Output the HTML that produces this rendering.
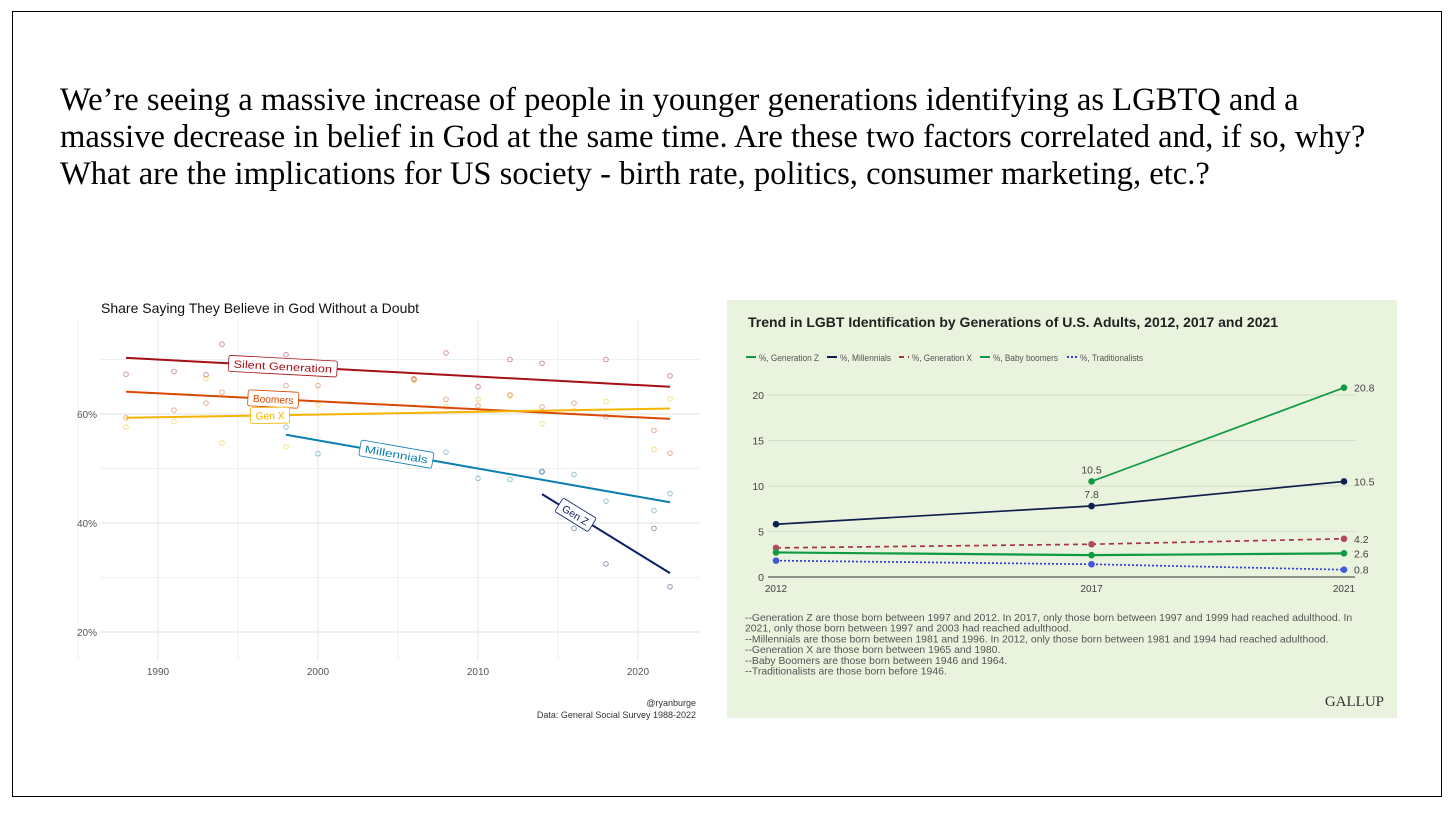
<!DOCTYPE html>
<html><head><meta charset="utf-8"><style>
body{margin:0;background:#fff;width:1456px;height:813px;overflow:hidden;position:relative}
#frame{position:absolute;left:12px;top:11px;width:1430px;height:786px;border:1.5px solid #000;box-sizing:border-box}
#q{position:absolute;left:60px;top:82px;font:32.6px/37px "Liberation Serif",serif;color:#000;margin:0;white-space:nowrap}
svg{position:absolute;left:0;top:0}
</style></head><body>
<div id="frame"></div>
<p id="q">We’re seeing a massive increase of people in younger generations identifying as LGBTQ and a<br>massive decrease in belief in God at the same time. Are these two factors correlated and, if so, why?<br>What are the implications for US society - birth rate, politics, consumer marketing, etc.?</p>
<svg id="left" width="1456" height="813"></svg>
<svg id="right" width="1456" height="813"></svg>
<script>
// ---------- Left chart data ----------
const gens = ["Silent Generation","Boomers","Gen X","Millennials","Gen Z"];
const genColors = ["#a50f15","#d94801","#f5b400","#0a7fb0","#0c1f66"];
const trendStart = [[1988,70.3],[1988,64.1],[1988,59.3],[1998,56.2],[2014,45.3]];
const trendEnd = [[2022,65.0],[2022,59.1],[2022,61.0],[2022,43.8],[2022,30.8]];
const silentPts = [[1988,67.3],[1991,67.8],[1993,67.2],[1994,72.8],[1998,70.9],[2006,66.3],[2008,71.2],[2010,65.0],[2012,70.0],[2014,69.3],[2018,70.0],[2022,67.0]];
const boomerPts = [[1988,59.3],[1991,60.7],[1993,62.0],[1994,64.0],[1998,65.2],[2000,65.2],[2006,66.5],[2008,62.7],[2010,61.5],[2012,63.5],[2014,61.3],[2016,62.0],[2018,59.5],[2021,57.0],[2022,52.8]];
const genxPts = [[1988,57.6],[1991,58.6],[1993,66.5],[1994,54.7],[1998,54.0],[2000,61.7],[2006,66.2],[2008,61.3],[2010,62.7],[2012,63.3],[2014,58.2],[2016,60.6],[2018,62.3],[2021,53.5],[2022,62.8]];
const millPts = [[1998,57.6],[2000,52.7],[2008,53.0],[2010,48.2],[2012,48.0],[2014,49.3],[2016,48.9],[2018,44.0],[2021,42.3],[2022,45.4]];
const genzPts = [[2014,49.5],[2016,39.0],[2018,32.5],[2021,39.0],[2022,28.3]];
const leftYTicks = [20,40,60];
const leftXTicks = [1990,2000,2010,2020];
const labelYears = [1997.8,1997.2,1997,2004.9,2016.1];

// ---------- Right chart data ----------
const years = [2012,2017,2021];
const genZ = [null,10.5,20.8];
const millennials = [5.8,7.8,10.5];
const genX = [3.2,3.6,4.2];
const boomers = [2.7,2.4,2.6];
const traditionalists = [1.8,1.4,0.8];
const rightYTicks = [0,5,10,15,20];

const NS="http://www.w3.org/2000/svg";
function mk(parent,tag,attrs,text){const e=document.createElementNS(NS,tag);for(const k in attrs)e.setAttribute(k,attrs[k]);if(text!==undefined)e.textContent=text;parent.appendChild(e);return e;}

// ---- Left chart ----
const L=document.getElementById('left');
const lx=y=>158+(y-1990)*16;
const ly=v=>414-(v-60)*5.45;
const F='"Liberation Sans",sans-serif';
let t=mk(L,'text',{x:101,y:313,'font-family':F,'font-size':14,fill:'#111'},'Share Saying They Believe in God Without a Doubt');


[1985,1995,2005,2015].forEach(y=>{const g=mk(L,'line',{x1:lx(y),x2:lx(y),y1:320,y2:660,stroke:'#f0f0f0','stroke-width':1});});
[30,50,70].forEach(v=>{const g=mk(L,'line',{x1:100,x2:700,y1:ly(v),y2:ly(v),stroke:'#f0f0f0','stroke-width':1});});
leftXTicks.forEach(y=>{const g=mk(L,'line',{x1:lx(y),x2:lx(y),y1:320,y2:660,stroke:'#e6e6e6','stroke-width':1});
 const tt=mk(L,'text',{x:lx(y),y:675,'text-anchor':'middle','font-family':F,'font-size':10,fill:'#555'},y);});
leftYTicks.forEach(v=>{const g=mk(L,'line',{x1:100,x2:700,y1:ly(v),y2:ly(v),stroke:'#e6e6e6','stroke-width':1.2});
 const tt=mk(L,'text',{x:97,y:ly(v)+4,'text-anchor':'end','font-family':F,'font-size':10,fill:'#555'},v+'%');});
const allPts=[silentPts,boomerPts,genxPts,millPts,genzPts];
allPts.forEach((pts,i)=>pts.forEach(p=>{const c=mk(L,'circle',{cx:lx(p[0]),cy:ly(p[1]),r:2.3,fill:'none',stroke:genColors[i],'stroke-opacity':0.5,'stroke-width':0.9});}));
gens.forEach((g,i)=>{const a=trendStart[i],b=trendEnd[i];
 const l=mk(L,'line',{x1:lx(a[0]),y1:ly(a[1]),x2:lx(b[0]),y2:ly(b[1]),stroke:genColors[i],'stroke-width':2});
 
 const yr=labelYears[i];const fr=(yr-a[0])/(b[0]-a[0]);const v=a[1]+fr*(b[1]-a[1]);
 const cx=lx(yr),cy=ly(v);let ang=Math.atan2(ly(b[1])-ly(a[1]),lx(b[0])-lx(a[0]))*180/Math.PI;
 const gg=mk(L,'g',{transform:`translate(${cx},${cy}) rotate(${ang})`});
 
 const w=g.length*5.8+10;
 mk(gg,'rect',{x:-w/2,y:-8,width:w,height:16,rx:2,fill:'#fff',stroke:genColors[i],'stroke-width':0.8});
 mk(gg,'text',{x:0,y:4,'text-anchor':'middle','font-family':F,'font-size':10.5,fill:genColors[i],textLength:w-10,lengthAdjust:'spacingAndGlyphs'},g);
});
t=mk(L,'text',{x:696,y:706,'text-anchor':'end','font-family':F,'font-size':9,fill:'#333'},'@ryanburge');
t=mk(L,'text',{x:696,y:718,'text-anchor':'end','font-family':F,'font-size':9,fill:'#333'},'Data: General Social Survey 1988-2022');

// ---- Right chart ----
const R=document.getElementById('right');
const rx=y=>776+(y-2012)*(1344-776)/9;
const ry=v=>577-v*9.1;
let bg=mk(R,'rect',{x:727,y:300,width:670,height:418,fill:'#eaf3de'});
t=mk(R,'text',{x:748,y:327,'font-family':F,'font-size':14,'font-weight':'bold',fill:'#222'},'Trend in LGBT Identification by Generations of U.S. Adults, 2012, 2017 and 2021');
const series=[genZ,millennials,genX,boomers,traditionalists];
const sNames=['%, Generation Z','%, Millennials','%, Generation X','%, Baby boomers','%, Traditionalists'];
const sColors=['#0f9a44','#0f1f4f','#a8344a','#0f9a44','#2d3fd0'];
const sPt=['#0f9a44','#0f1f4f','#b04a5c','#0f9a44','#4358d8'];
const sDash=['','','5,4','','2,2'];
const legX=[744,825,897,978,1065];
const legW=[60,51,60,65,63];
sNames.forEach((n,i)=>{const g=mk(R,'g',{});
 mk(g,'line',{x1:legX[i]+2,x2:legX[i]+12,y1:357,y2:357,stroke:sColors[i],'stroke-width':2,'stroke-dasharray':sDash[i]});
 mk(g,'text',{x:legX[i]+15,y:361,'font-family':F,'font-size':9.5,fill:'#555',textLength:legW[i],lengthAdjust:'spacingAndGlyphs'},n);});
rightYTicks.forEach(v=>{if(v>0){const g=mk(R,'line',{x1:768,x2:1355,y1:ry(v),y2:ry(v),stroke:'#d2dcc8','stroke-width':1});}
 const tt=mk(R,'text',{x:764,y:ry(v)+4,'text-anchor':'end','font-family':F,'font-size':10.5,fill:'#444'},v);});
let ax=mk(R,'line',{x1:768,x2:1355,y1:ry(0),y2:ry(0),stroke:'#333','stroke-width':1});
years.forEach(y=>{const tt=mk(R,'text',{x:rx(y),y:592,'text-anchor':'middle','font-family':F,'font-size':10,fill:'#444'},y);});
series.forEach((s,i)=>{let d='';s.forEach((v,j)=>{if(v===null)return;d+=(d?'L':'M')+rx(years[j])+','+ry(v);});
 const p=mk(R,'path',{d:d,fill:'none',stroke:sColors[i],'stroke-width':i===3?2.2:1.7,'stroke-dasharray':sDash[i]});
 s.forEach((v,j)=>{if(v===null)return;const c=mk(R,'circle',{cx:rx(years[j]),cy:ry(v),r:3.3,fill:sPt[i]});
  if(j===2){const tt=mk(R,'text',{x:rx(years[j])+10,y:ry(v)+4,'font-family':F,'font-size':10.5,fill:'#444'},v);}
  else if(j===1&&i<2){const tt=mk(R,'text',{x:rx(years[j]),y:ry(v)-8,'text-anchor':'middle','font-family':F,'font-size':10.5,fill:'#444'},v);}
 });
});
const notes=['--Generation Z are those born between 1997 and 2012. In 2017, only those born between 1997 and 1999 had reached adulthood. In','2021, only those born between 1997 and 2003 had reached adulthood.','--Millennials are those born between 1981 and 1996. In 2012, only those born between 1981 and 1994 had reached adulthood.','--Generation X are those born between 1965 and 1980.','--Baby Boomers are those born between 1946 and 1964.','--Traditionalists are those born before 1946.'];
notes.forEach((n,i)=>{const tt=mk(R,'text',{x:745,y:621+i*10.7,'font-family':F,'font-size':10.4,fill:'#555'},n);});
t=mk(R,'text',{x:1384,y:706,'text-anchor':'end','font-family':'"Liberation Serif",serif','font-size':15,fill:'#333'},'GALLUP');
</script>
</body></html>
